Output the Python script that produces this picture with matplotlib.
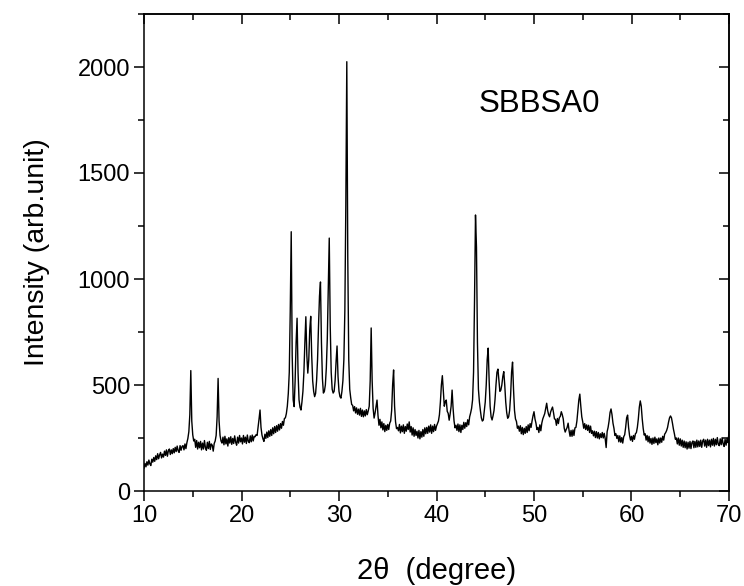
import numpy as np
import matplotlib
matplotlib.use("Agg")
import matplotlib.pyplot as plt
from matplotlib.ticker import MultipleLocator, NullFormatter

plt.rcParams['font.family'] = ['Liberation Sans', 'DejaVu Sans']

# 2theta grid, 0.1 degree steps from 10 to 70
two_theta = np.round(np.arange(100, 701) / 10.0, 1)

# intensity, one row per degree (x.0 ... x.9)
intensity = [
    108, 130, 114, 138, 122, 146, 128, 120, 150, 136,   # 10
    158, 140, 166, 148, 176, 152, 170, 182, 156, 174,   # 11
    160, 188, 168, 194, 164, 190, 198, 172, 194, 176,   # 12
    200, 180, 206, 186, 212, 190, 182, 214, 192, 210,   # 13
    214, 194, 222, 200, 228, 248, 280, 360, 568, 330,   # 14
    265, 236, 244, 206, 238, 198, 230, 204, 234, 194,   # 15
    226, 198, 238, 204, 192, 230, 200, 234, 196, 222,   # 16
    216, 188, 224, 236, 262, 350, 531, 330, 262, 236,   # 17
    226, 254, 218, 258, 222, 246, 212, 252, 226, 256,   # 18
    220, 248, 224, 260, 230, 216, 254, 226, 262, 232,   # 19
    250, 222, 262, 230, 254, 224, 264, 234, 228, 260,   # 20
    232, 264, 236, 258, 256, 266, 262, 300, 340, 382,   # 21
    300, 264, 246, 234, 268, 248, 278, 252, 284, 258,   # 22
    290, 262, 298, 270, 304, 276, 308, 282, 314, 288,   # 23
    318, 296, 328, 310, 342, 345, 365, 400, 460, 560,   # 24
    850, 1223, 640, 430, 398, 520, 700, 815, 560, 430,  # 25
    395, 382, 420, 470, 560, 700, 822, 640, 556, 620,   # 26
    760, 824, 640, 520, 470, 445, 460, 520, 620, 780,   # 27
    920, 986, 700, 530, 462, 470, 500, 580, 720, 950,   # 28
    1193, 780, 560, 480, 462, 470, 520, 610, 684, 540,  # 29
    470, 445, 438, 470, 520, 620, 850, 1350, 2025, 1100,  # 30
    620, 480, 440, 408, 404, 378, 398, 368, 392, 362,   # 31
    386, 358, 390, 352, 382, 350, 378, 354, 384, 360,   # 32
    378, 400, 520, 769, 520, 390, 344, 368, 400, 429,   # 33
    356, 310, 338, 298, 326, 288, 318, 280, 310, 286,   # 34
    314, 290, 320, 330, 380, 500, 571, 400, 326, 294,   # 35
    300, 284, 314, 274, 306, 280, 312, 272, 304, 282,   # 36
    316, 290, 326, 278, 304, 264, 298, 258, 290, 262,   # 37
    282, 250, 286, 246, 280, 254, 290, 258, 298, 270,   # 38
    300, 272, 306, 278, 312, 272, 306, 280, 314, 286,   # 39
    306, 318, 330, 360, 420, 500, 544, 470, 400, 420,   # 40
    429, 376, 366, 334, 364, 400, 476, 390, 330, 298,   # 41
    310, 286, 316, 280, 312, 276, 310, 290, 324, 296,   # 42
    322, 304, 336, 312, 350, 368, 390, 430, 560, 900,   # 43
    1302, 1150, 700, 480, 420, 380, 345, 330, 335, 380,  # 44
    420, 500, 620, 674, 520, 400, 350, 335, 355, 380,   # 45
    430, 500, 560, 575, 520, 470, 476, 500, 540, 563,   # 46
    500, 420, 370, 343, 350, 380, 450, 560, 608, 480,   # 47
    380, 340, 328, 296, 306, 282, 308, 270, 300, 266,   # 48
    296, 272, 304, 276, 312, 284, 318, 300, 330, 355,   # 49
    374, 340, 320, 290, 300, 276, 312, 284, 320, 340,   # 50
    352, 365, 390, 414, 380, 360, 350, 372, 385, 396,   # 51
    370, 340, 338, 310, 342, 318, 346, 352, 374, 360,   # 52
    340, 296, 278, 290, 300, 320, 284, 258, 286, 258,   # 53
    288, 262, 298, 300, 330, 380, 430, 457, 400, 350,   # 54
    326, 296, 318, 290, 312, 286, 310, 276, 306, 272,   # 55
    284, 260, 282, 252, 280, 250, 276, 246, 270, 252,   # 56
    276, 250, 272, 248, 205, 280, 300, 330, 370, 387,   # 57
    360, 320, 296, 262, 270, 248, 262, 232, 260, 230,   # 58
    252, 226, 256, 265, 300, 345, 358, 300, 262, 240,   # 59
    258, 234, 262, 244, 270, 275, 300, 340, 395, 425,   # 60
    400, 340, 295, 264, 270, 240, 262, 232, 258, 226,   # 61
    248, 220, 250, 224, 254, 228, 246, 218, 250, 226,   # 62
    250, 230, 258, 240, 268, 275, 285, 300, 325, 345,   # 63
    354, 345, 320, 292, 270, 244, 250, 222, 250, 216,   # 64
    246, 212, 240, 206, 236, 204, 232, 198, 230, 202,   # 65
    234, 200, 228, 236, 204, 234, 206, 240, 208, 236,   # 66
    210, 240, 206, 236, 244, 212, 240, 206, 244, 214,   # 67
    240, 208, 244, 216, 248, 212, 244, 218, 252, 220,   # 68
    214, 246, 218, 252, 222, 210, 244, 216, 248, 228,   # 69
    278,                                                # 70
]

sample_label = "SBBSA0"

fig = plt.figure(figsize=(7.44, 5.86), dpi=100)
ax = fig.add_axes([144 / 744, 95 / 586, 585 / 744, 477 / 586])

ax.plot(two_theta, intensity, color='black', lw=1.0)

ax.set_xlim(10, 70)
ax.set_ylim(0, 2250)
ax.xaxis.set_major_locator(MultipleLocator(10))
ax.xaxis.set_minor_locator(MultipleLocator(5))
ax.yaxis.set_major_locator(MultipleLocator(500))
ax.yaxis.set_minor_locator(MultipleLocator(250))
ax.tick_params(which='major', direction='out', length=7, width=1.1,
               labelsize=17, pad=3)
ax.tick_params(which='minor', direction='out', length=4, width=1.1)

# top and right: inward ticks, no labels
top = ax.secondary_xaxis('top')
top.xaxis.set_major_locator(MultipleLocator(10))
top.xaxis.set_minor_locator(MultipleLocator(5))
top.xaxis.set_major_formatter(NullFormatter())
top.tick_params(which='major', direction='in', length=7, width=1.1)
top.tick_params(which='minor', direction='in', length=4, width=1.1)
right = ax.secondary_yaxis('right')
right.yaxis.set_major_locator(MultipleLocator(500))
right.yaxis.set_minor_locator(MultipleLocator(250))
right.yaxis.set_major_formatter(NullFormatter())
right.tick_params(which='major', direction='in', length=7, width=1.1)
right.tick_params(which='minor', direction='in', length=4, width=1.1)

for s in list(ax.spines.values()) + [top.spines['top'], right.spines['right']]:
    s.set_linewidth(1.1)

ax.set_xlabel("2θ  (degree)", fontsize=21, labelpad=22)
ax.set_ylabel("Intensity (arb.unit)", fontsize=20.5, labelpad=20)

ax.text(44.3, 1790, sample_label, fontsize=22.5, ha='left', va='baseline')

fig.savefig("out.png", dpi=100)
